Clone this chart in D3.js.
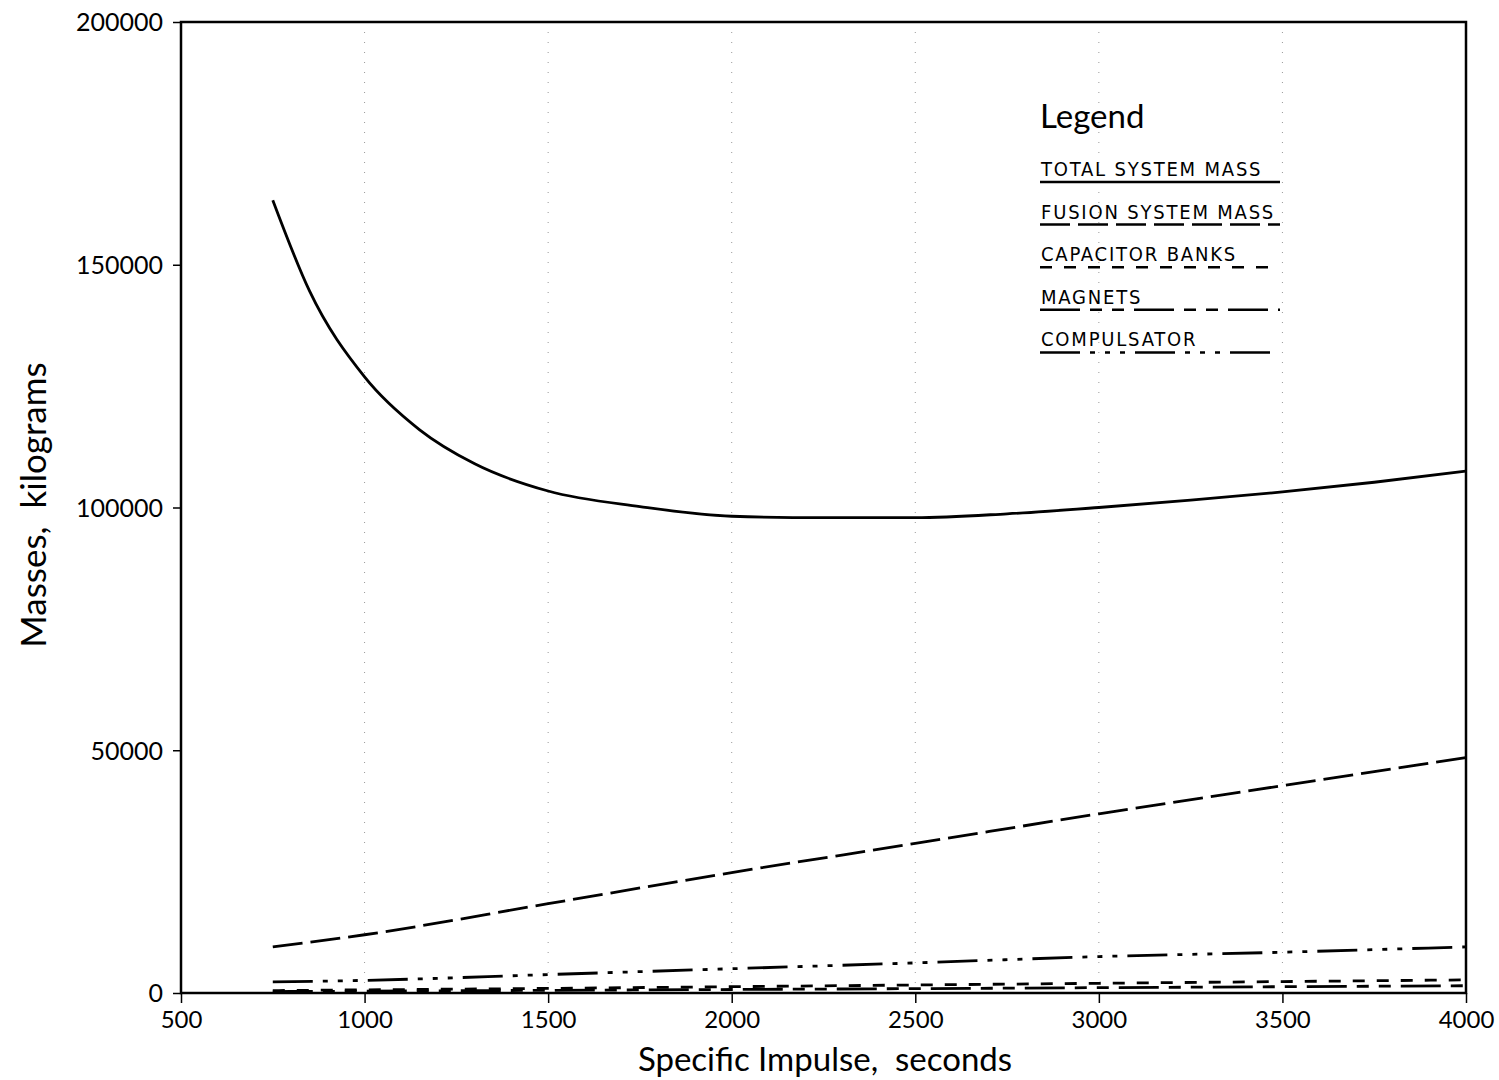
<!DOCTYPE html>
<html>
<head>
<meta charset="utf-8">
<script src="https://cdn.jsdelivr.net/npm/d3@7"></script>
<style>
  body { margin: 0; background: #fff; }
  svg { display: block; }
  text { white-space: pre; }
  .tick text { font-family: "Lato", "DejaVu Sans", sans-serif; }
</style>
</head>
<body>
<div id="chart"></div>
<script>
// specific impulse values (seconds)
var ispTotal = [750, 850, 1000, 1150, 1300, 1500, 1750, 2000, 2250, 2500, 2750, 3000, 3250, 3500, 3750, 4000];
var totalMass = [163300, 144600, 126900, 116000, 109000, 103400, 100200, 98200, 97900, 97900, 98700, 100000, 101500, 103200, 105200, 107500];

var isp = [750, 1000, 1500, 2000, 2500, 3000, 3500, 4000];
var fusionMass = [9500, 12000, 18400, 24800, 30800, 36900, 42700, 48500];
var capacitorMass = [500, 650, 950, 1300, 1650, 2000, 2350, 2700];
var magnetMass = [300, 380, 550, 720, 900, 1100, 1300, 1500];
var compulsatorMass = [2300, 2600, 3800, 5000, 6200, 7500, 8400, 9500];

var xTicks = [500, 1000, 1500, 2000, 2500, 3000, 3500, 4000];
var yTicks = [0, 50000, 100000, 150000, 200000];
var legendNames = ["TOTAL SYSTEM MASS", "FUSION SYSTEM MASS", "CAPACITOR BANKS", "MAGNETS", "COMPULSATOR"];

var width = 1499, height = 1080;
var margin = {left: 181, right: 33, top: 22, bottom: 87};

var svg = d3.select("#chart").append("svg")
    .attr("width", width)
    .attr("height", height);

var x = d3.scaleLinear().domain([500, 4000]).range([margin.left, width - margin.right]);
var y = d3.scaleLinear().domain([0, 200000]).range([height - margin.bottom, margin.top]);

// dotted vertical grid
svg.selectAll("line.grid")
    .data(xTicks.slice(1, -1))
    .enter().append("line")
    .attr("class", "grid")
    .attr("x1", function (d) { return x(d); })
    .attr("x2", function (d) { return x(d); })
    .attr("y1", y(200000))
    .attr("y2", y(0))
    .attr("stroke", "#999")
    .attr("stroke-width", 1)
    .attr("stroke-dasharray", "1,9");

// frame
svg.append("rect")
    .attr("x", x(500)).attr("y", y(200000))
    .attr("width", x(4000) - x(500))
    .attr("height", y(0) - y(200000))
    .attr("fill", "none")
    .attr("stroke", "#000")
    .attr("stroke-width", 2.5);

var xAxis = svg.append("g")
    .attr("transform", "translate(0," + y(0) + ")")
    .call(d3.axisBottom(x).tickValues(xTicks).tickSize(10).tickPadding(8).tickFormat(d3.format("d")));
xAxis.select(".domain").remove();
xAxis.selectAll("line").attr("stroke-width", 1.5);
xAxis.selectAll("text").attr("font-size", 24).attr("fill", "#000");

var yAxis = svg.append("g")
    .attr("transform", "translate(" + x(500) + ",0)")
    .call(d3.axisLeft(y).tickValues(yTicks).tickSize(8).tickPadding(10).tickFormat(d3.format("d")));
yAxis.select(".domain").remove();
yAxis.selectAll("line").attr("stroke-width", 1.5);
yAxis.selectAll("text").attr("font-size", 25).attr("fill", "#000").attr("dy", "0.35em");

// axis titles
svg.append("text")
    .attr("x", 825).attr("y", 1071)
    .attr("text-anchor", "middle")
    .attr("font-family", "Lato, 'DejaVu Sans', sans-serif")
    .attr("font-size", 33)
    .text("Specific Impulse,  seconds");

svg.append("text")
    .attr("transform", "translate(46,505) rotate(-90)")
    .attr("text-anchor", "middle")
    .attr("font-family", "Lato, 'DejaVu Sans', sans-serif")
    .attr("font-size", 35)
    .text("Masses,  kilograms");

// dash styles for each series
var dashes = ["none", "30,8", "12,12", "40,10,12,10,12,10", "40,10,5,10,5,10,5,10"];

var series = [
    {xs: ispTotal, ys: totalMass},
    {xs: isp, ys: fusionMass},
    {xs: isp, ys: capacitorMass},
    {xs: isp, ys: magnetMass},
    {xs: isp, ys: compulsatorMass}
];

var line = d3.line()
    .curve(d3.curveMonotoneX)
    .x(function (d) { return x(d[0]); })
    .y(function (d) { return y(d[1]); });

svg.selectAll("path.series")
    .data(series)
    .enter().append("path")
    .attr("class", "series")
    .attr("d", function (s) { return line(d3.zip(s.xs, s.ys)); })
    .attr("fill", "none")
    .attr("stroke", "#000")
    .attr("stroke-width", 2.8)
    .attr("stroke-dasharray", function (s, i) { return dashes[i]; });

// legend
var lg = svg.append("g").attr("transform", "translate(1040,0)");
lg.append("text")
    .attr("x", 0).attr("y", 128)
    .attr("font-family", "Lato, 'DejaVu Sans', sans-serif")
    .attr("font-size", 33)
    .text("Legend");

var item = lg.selectAll("g.item")
    .data(legendNames)
    .enter().append("g")
    .attr("class", "item")
    .attr("transform", function (d, i) { return "translate(0," + (176 + i * 42.6) + ")"; });

item.append("text")
    .attr("x", 1)
    .attr("font-family", "'DejaVu Sans Condensed', 'Liberation Sans Narrow', sans-serif")
    .attr("font-size", 20)
    .attr("letter-spacing", 1.8)
    .text(function (d) { return d; });

item.append("line")
    .attr("x1", 0).attr("x2", 240)
    .attr("y1", 6).attr("y2", 6)
    .attr("stroke", "#000")
    .attr("stroke-width", 2.5)
    .attr("stroke-dasharray", function (d, i) { return dashes[i]; });
</script>
</body>
</html>
